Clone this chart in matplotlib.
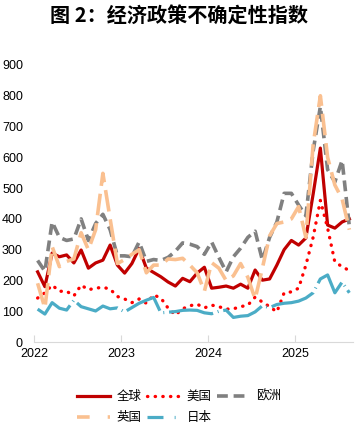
import matplotlib
matplotlib.use("Agg")
from matplotlib import pyplot as plt
from matplotlib.lines import Line2D

plt.rcParams['font.family'] = ['Liberation Sans', 'Noto Sans CJK SC', 'DejaVu Sans']

# 2022-01 .. 2025-08, 44 个月
n_months = 44
years = ["2022", "2023", "2024", "2025"]

quanqiu = [228, 180, 289, 277, 283, 257, 299, 240, 257, 266, 315, 250,
           224, 255, 304, 240, 226, 212, 195, 182, 207, 196, 224, 243,
           175, 178, 182, 175, 188, 175, 234, 201, 205, 250, 300, 330,
           315, 338, 480, 630, 380, 370, 390, 400]
meiguo = [143, 160, 185, 165, 165, 150, 185, 170, 175, 178, 172, 148,
          140, 128, 140, 126, 153, 143, 110, 88, 108, 118, 123, 111,
          120, 115, 107, 108, 115, 120, 146, 130, 115, 98, 160, 163,
          175, 250, 340, 460, 370, 260, 245, 232]
ouzhou = [265, 230, 390, 340, 330, 335, 400, 330, 385, 415, 365, 280,
          280, 277, 325, 262, 268, 265, 275, 295, 322, 318, 310, 285,
          325, 275, 228, 277, 305, 340, 360, 266, 340, 390, 483, 483,
          445, 410, 620, 765, 560, 520, 590, 375]
yingguo = [191, 110, 310, 245, 262, 270, 355, 300, 365, 548, 400, 255,
           268, 285, 300, 225, 250, 250, 270, 268, 272, 250, 225, 165,
           258, 240, 200, 215, 255, 210, 140, 240, 345, 385, 390, 400,
           440, 340, 640, 800, 600, 510, 465, 365]
riben = [107, 91, 128, 110, 104, 136, 115, 108, 101, 117, 108, 111,
         98, 112, 126, 136, 145, 95, 97, 99, 103, 104, 103, 95,
         92, 100, 104, 80, 84, 86, 98, 118, 112, 122, 126, 128,
         133, 143, 160, 205, 218, 160, 195, 160]

x = list(range(n_months))

fig = plt.figure(figsize=(3.58, 4.33), dpi=100)
ax = fig.add_axes([0.095, 0.21, 0.891, 0.64])

l1, = ax.plot(x, quanqiu, color="#C00000", lw=2.3, label="全球")
l2, = ax.plot(x, meiguo, color="#FF0000", lw=2.4, linestyle=(0, (0.1, 2.2)),
              dash_capstyle="round", label="美国")
l3, = ax.plot(x, ouzhou, color="#808080", lw=2.6, linestyle=(0, (3, 1.6)), label="欧洲")
l4, = ax.plot(x, yingguo, color="#FAC090", lw=2.6, linestyle=(0, (6, 2.2)), label="英国")
ax.plot(x, riben, color="#4BACC6", lw=2.3, linestyle=(0, (14, 1.5, 0.3, 1.5)), label="日本")

# 图例里的日本用短一点的点划线
l5 = Line2D([], [], color="#4BACC6", lw=2.3, linestyle=(0, (5, 3.5, 0.3, 3.5)))
l4b = Line2D([], [], color="#FAC090", lw=2.6, linestyle=(0, (3.5, 5)))

ax.set_xlim(-0.5, n_months - 0.5)
ax.set_ylim(0, 900)
ax.set_yticks(range(0, 901, 100))
ax.set_xticks([-0.5 + 12 * k for k in range(4)])
ax.set_xticklabels(years)

for s in ("top", "right", "left"):
    ax.spines[s].set_visible(False)
ax.spines["bottom"].set_color("#D9D9D9")
ax.tick_params(axis="x", direction="in", length=5, color="#D9D9D9", labelsize=9, pad=4)
ax.tick_params(axis="y", length=0, labelsize=9, pad=8)

fig.text(0.5, 0.962, "图 2：经济政策不确定性指数", ha="center", va="center",
         fontsize=14.5, fontweight="bold", family=["Noto Sans CJK SC"])

# 按行排列：第一行 全球 美国 欧洲，第二行 英国 日本
fig.legend([l1, l4b, l2, l5, l3], ["全球", "英国", "美国", "日本", "欧洲"],
           loc="center", bbox_to_anchor=(0.5, 0.059), ncol=3, frameon=False,
           fontsize=9, handlelength=2.7, handletextpad=0.5, columnspacing=0.4,
           labelspacing=0.75)

fig.savefig("out.png", dpi=100)
